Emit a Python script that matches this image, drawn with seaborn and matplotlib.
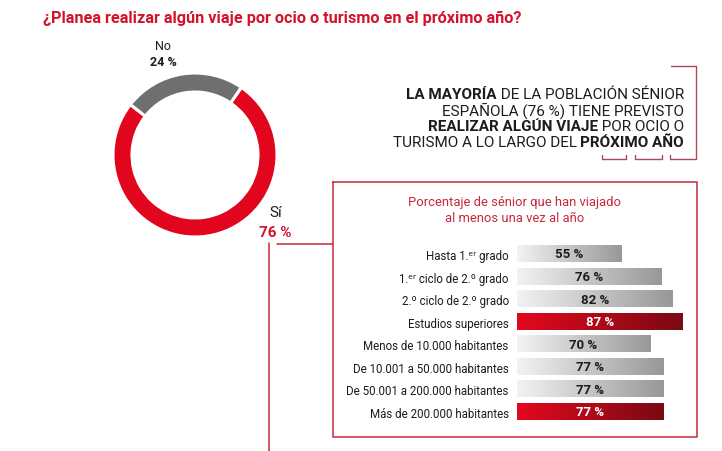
import numpy as np
import pandas as pd
import matplotlib
matplotlib.use("Agg")
import matplotlib.pyplot as plt
from matplotlib.colors import LinearSegmentedColormap
import seaborn as sns

# donut data
donut_labels = ["Sí", "No"]
donut_vals = [76, 24]

# bar data
categories = ["Hasta 1.ᵉʳ grado", "1.ᵉʳ ciclo de 2.º grado", "2.º ciclo de 2.º grado",
              "Estudios superiores", "Menos de 10.000 habitantes",
              "De 10.001 a 50.000 habitantes", "De 50.001 a 200.000 habitantes",
              "Más de 200.000 habitantes"]
values = [55, 76, 82, 87, 70, 77, 77, 77]
highlight = [False, False, False, True, False, False, False, True]

title = "¿Planea realizar algún viaje por ocio o turismo en el próximo año?"
box_title = "Porcentaje de sénior que han viajado\nal menos una vez al año"
statement = [
    [("LA MAYORÍA", "bold"), (" DE LA POBLACIÓN SÉNIOR", "normal")],
    [("ESPAÑOLA (76 %) TIENE PREVISTO", "normal")],
    [("REALIZAR ALGÚN VIAJE", "bold"), (" POR OCIO O", "normal")],
    [("TURISMO A LO LARGO DEL ", "normal"), ("PRÓXIMO AÑO", "bold")],
]

RED = "#e1061e"
TITLE_RED = "#d2132b"
LINE_RED = "#c8283c"
BRACKET = "#a54a57"
GRAY = "#6f6f6f"
TXT = "#1c1c1c"

sns.set_theme(style="white")
plt.rcParams["font.family"] = ["Roboto", "DejaVu Sans"]

W, H = 722, 452
fig = plt.figure(figsize=(W / 100, H / 100), dpi=100)
fig.patch.set_facecolor("white")

# background axes in pixel coords
bg = fig.add_axes([0, 0, 1, 1])
bg.set_xlim(0, W)
bg.set_ylim(H, 0)
bg.axis("off")

bg.text(43, 18, title, fontsize=11.7, fontweight="bold", color=TITLE_RED, va="center", ha="left")

# donut
cx, cy, r = 195, 156, 82
pax = fig.add_axes([(cx - r) / W, (H - cy - r) / H, 2 * r / W, 2 * r / H])
pax.pie(donut_vals, colors=[RED, GRAY], startangle=142, counterclock=True,
        wedgeprops=dict(width=19 / 82, edgecolor="white", linewidth=2.2), radius=1)
pax.set_xlim(-1, 1)
pax.set_ylim(-1, 1)
pax.axis("off")

bg.text(163, 47, donut_labels[1], fontsize=9, color=TXT, ha="center", va="center")
bg.text(163, 62, f"{donut_vals[1]} %", fontsize=9, fontweight="bold", color=TXT, ha="center", va="center")
bg.text(276, 213, donut_labels[0], fontsize=11, color=TXT, ha="center", va="center")
bg.text(275, 233, f"{donut_vals[0]} %", fontsize=11, fontweight="bold", color=TITLE_RED, ha="center", va="center")

# connector and box
bg.plot([269, 269], [244, 452], color=LINE_RED, lw=1.1)
bg.plot([277, 333], [245, 245], color=LINE_RED, lw=1.1)
bg.plot([333, 697, 697, 333, 333], [183, 183, 438, 438, 183], color=LINE_RED, lw=1.1)
bg.text(515, 211, box_title, fontsize=9.4, color=LINE_RED, ha="center", va="center", linespacing=1.3)

# statement block, right aligned with mixed weights
renderer = fig.canvas.get_renderer()
for i, line in enumerate(statement):
    y = 95 + i * 16
    x = 684
    for seg, wgt in reversed(line):
        t = bg.text(x, y, seg, fontsize=11, fontweight=wgt, color=TXT, ha="right", va="center")
        x -= t.get_window_extent(renderer).width

# bracket decoration
bg.plot([671, 696, 696, 670, 670], [67, 67, 160, 160, 156], color=BRACKET, lw=1.0)
for a, b in [(602, 626), (635, 662)]:
    bg.plot([a, a, b, b], [156, 160, 160, 156], color=BRACKET, lw=1.0)

# bars
row = 22.57
top = 255 - row / 2
bh = row * len(categories)
bax = fig.add_axes([517 / W, (H - top - bh) / H, 190 / W, bh / H])
df = pd.DataFrame({"cat": categories, "val": values})
sns.barplot(data=df, x="val", y="cat", orient="h", color="#cccccc", width=0.71, ax=bax)

gray_cm = LinearSegmentedColormap.from_list("g", ["#f3f3f3", "#989898"])
red_cm = LinearSegmentedColormap.from_list("r", ["#e3081f", "#7a0a12"])
grad = np.linspace(0, 1, 256).reshape(1, -1)
for i, p in enumerate(bax.patches):
    x0, y0 = p.get_x(), p.get_y()
    w, h = p.get_width(), p.get_height()
    bax.imshow(grad, cmap=red_cm if highlight[i] else gray_cm, aspect="auto",
               extent=(x0, x0 + w, y0 + h, y0), zorder=2)
    p.set_alpha(0)
    bax.text(values[i] / 2, i, f"{values[i]} %", ha="center", va="center", fontsize=9.5,
             fontweight="bold", color="white" if highlight[i] else TXT, zorder=3)

bax.set_xlim(0, 100)
bax.set_ylim(len(categories) - 0.5, -0.5)
bax.set_xlabel("")
bax.set_ylabel("")
bax.set_xticks([])
bax.tick_params(axis="y", length=0, pad=6, labelsize=8.3, labelcolor=TXT)
sns.despine(ax=bax, left=True, bottom=True)
bax.patch.set_alpha(0)

fig.savefig("out.png", dpi=100, facecolor="white")
